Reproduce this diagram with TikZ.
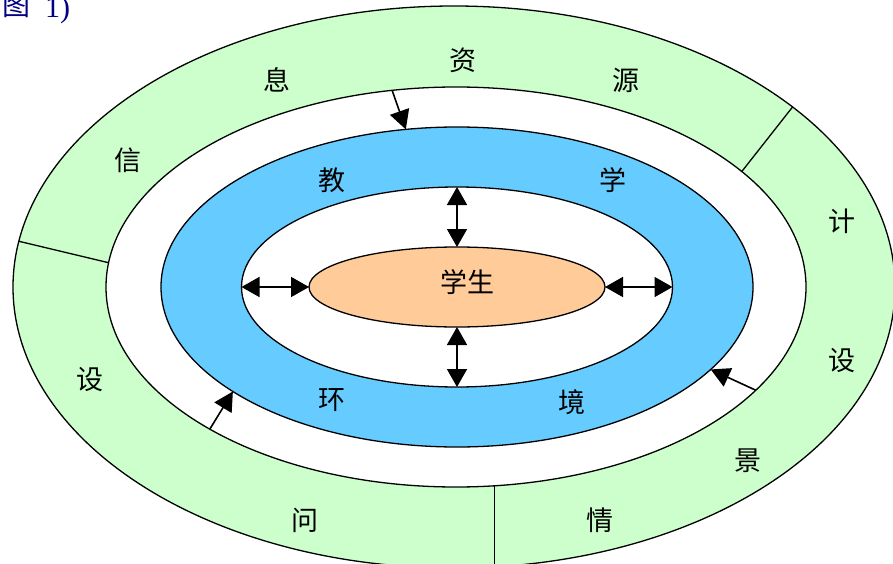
\documentclass[tikz,border=0pt]{standalone}
\usepackage{fontspec}
\newfontfamily\cjk{Noto Sans CJK SC}
\newfontfamily\capserif{Liberation Serif}
\usetikzlibrary{shapes.geometric,arrows.meta}
\definecolor{ringgreen}{HTML}{CCFFCC}
\definecolor{ringblue}{HTML}{66CCFF}
\definecolor{corefill}{HTML}{FFCC99}
\definecolor{navyblue}{HTML}{000080}
\begin{document}
\begin{tikzpicture}[x=1pt,y=-1pt,
  ring/.style={ellipse, draw=black, line width=1.3pt, inner sep=0pt, outer sep=0pt},
  lbl/.style={font=\cjk\fontsize{27}{27}\selectfont, inner sep=0pt},
  divider/.style={line width=1.3pt},
  tip/.style={-{Triangle[length=19pt,width=20pt]}, line width=1.6pt},
  dtip/.style={{Triangle[length=18pt,width=20pt]}-{Triangle[length=18pt,width=20pt]}, line width=1.6pt}]
\useasboundingbox (0,0) rectangle (893,564);
\node[ring, fill=ringgreen, minimum width=882pt, minimum height=562pt] (outer) at (454,287) {};
\node[ring, fill=white, minimum width=700pt, minimum height=400pt] (mid) at (456,287) {};
\draw[divider] (outer.174.8) -- (mid.176.7);
\draw[divider] (outer.28) -- (mid.22.8);
\draw[divider] (mid.281.6) -- ++(0,90);
\node[ring, fill=ringblue, minimum width=592pt, minimum height=320pt] (blue) at (457,287) {};
\node[ring, fill=white, minimum width=431pt, minimum height=200pt] (inner) at (457,287) {};
\node[ring, fill=corefill, minimum width=296pt, minimum height=80pt] (student) at (457,287) {};
\draw[tip] (mid.108) -- (blue.108);
\draw[tip] (mid.210.4) -- (blue.205.3);
\draw[tip] (mid.341.4) -- (blue.342.5);
\draw[dtip] (inner.west) -- (student.west);
\draw[dtip] (student.east) -- (inner.east);
\draw[dtip] (inner.north) -- (student.north);
\draw[dtip] (student.south) -- (inner.south);
\node[lbl] (t1) at (128,160) {信};
\node[lbl] (t2) at (277,80) {息};
\node[lbl] (t3) at (463,60) {资};
\node[lbl] (t4) at (626,80) {源};
\node[lbl] (t5) at (842,221) {计};
\node[lbl] (t6) at (842,361) {设};
\node[lbl] (t7) at (748,461) {景};
\node[lbl] (t8) at (600,520) {情};
\node[lbl] (t9) at (305,520) {问};
\node[lbl] (t10) at (90,380) {设};
\node[lbl] (b1) at (332,180) {教};
\node[lbl] (b2) at (613,180) {学};
\node[lbl] (b3) at (332,400) {环};
\node[lbl] (b4) at (572,402) {境};
\node[lbl] (core) at (467,282) {学生};
\node[anchor=base west, inner sep=0pt, text=navyblue, font=\cjk\fontsize{28}{28}\selectfont] (cap) at (2,16) {图};
\node[anchor=base west, inner sep=0pt, text=navyblue, font=\capserif\fontsize{30}{30}\selectfont] (capnum) at (45,18) {1)};
\end{tikzpicture}
\end{document}
